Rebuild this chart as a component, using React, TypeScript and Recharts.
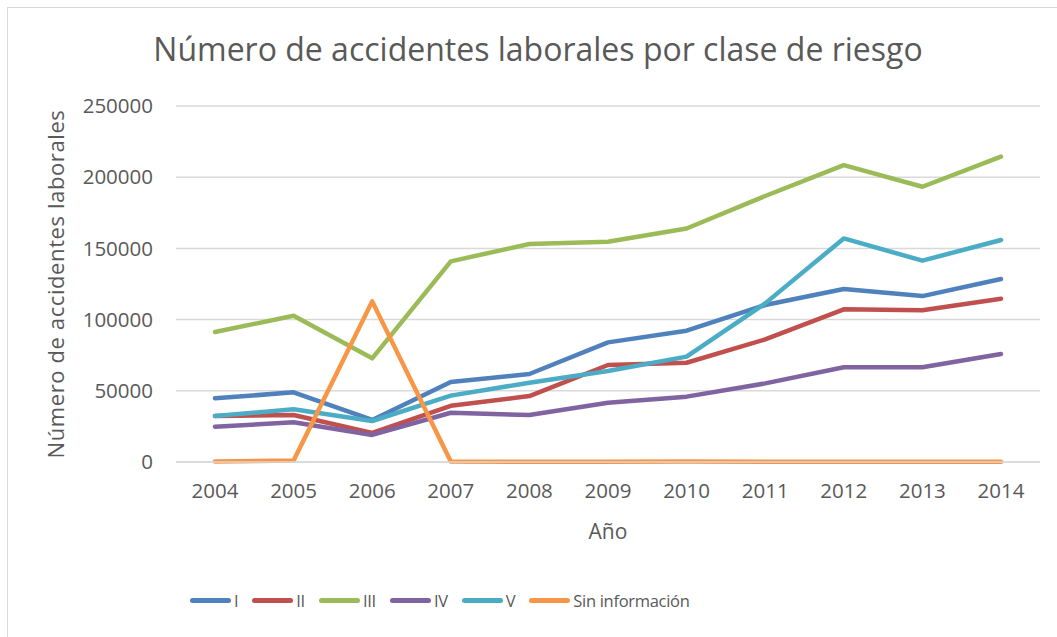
import React from 'react';
import { LineChart, Line, XAxis, YAxis, CartesianGrid, Legend, Label } from 'recharts';

const years = ['2004', '2005', '2006', '2007', '2008', '2009', '2010', '2011', '2012', '2013', '2014'];

const claseI = [44700, 48900, 29500, 56200, 61800, 84000, 92200, 110200, 121500, 116500, 128500];
const claseII = [32300, 33000, 20400, 39500, 46300, 68100, 69700, 86100, 107200, 106500, 114700];
const claseIII = [91300, 102700, 72800, 140900, 153100, 154700, 164000, 186800, 208500, 193300, 214400];
const claseIV = [24800, 27900, 19000, 34600, 33000, 41600, 45900, 55200, 66500, 66500, 75800];
const claseV = [32300, 37000, 28800, 46600, 55700, 63900, 74000, 111400, 157000, 141400, 155900];
const sinInfo = [300, 1000, 112800, 400, 200, 200, 300, 200, 200, 200, 200];

const yTicks = [0, 50000, 100000, 150000, 200000, 250000];

const series = [
  { key: 'I', color: '#4F81BD' },
  { key: 'II', color: '#C0504D' },
  { key: 'III', color: '#9BBB59' },
  { key: 'IV', color: '#8064A2' },
  { key: 'V', color: '#4BACC6' },
  { key: 'Sin información', color: '#F79646' },
];

const data = years.map((year, i) => ({
  year,
  I: claseI[i],
  II: claseII[i],
  III: claseIII[i],
  IV: claseIV[i],
  V: claseV[i],
  'Sin información': sinInfo[i],
}));

const font = '"Open Sans", "DejaVu Sans", sans-serif';
const grey = '#595959';

const LegendContent = () => (
  <div style={{ display: 'flex', alignItems: 'center', fontFamily: font, fontSize: 16.5, letterSpacing: -0.3, color: grey }}>
    {series.map((s) => (
      <div key={s.key} style={{ display: 'flex', alignItems: 'center', marginRight: 14 }}>
        <div style={{ width: 41, height: 5, borderRadius: 3, background: s.color, marginRight: 3 }} />
        <span>{s.key}</span>
      </div>
    ))}
  </div>
);

const App: React.FC = () => {
  return (
    <div style={{ position: 'absolute', left: 0, top: 0, width: 1057, height: 637, background: '#fff', overflow: 'hidden' }}>
      <div style={{ position: 'absolute', left: 7, top: 7, width: 1100, height: 700, border: '1px solid #d9d9d9' }} />
      <div style={{ position: 'absolute', left: 0, top: 27, width: 1076, textAlign: 'center', fontFamily: font, fontSize: 32, color: grey }}>
        Número de accidentes laborales por clase de riesgo
      </div>
      <LineChart
        width={1057}
        height={637}
        data={data}
        margin={{ top: 106, right: 17, left: 76, bottom: 95 }}
        style={{ position: 'absolute', left: 0, top: 0 }}
      >
        <CartesianGrid vertical={false} stroke="#d9d9d9" strokeWidth={1.5} />
        <XAxis
          dataKey="year"
          height={80}
          axisLine={{ stroke: '#d9d9d9', strokeWidth: 1.5 }}
          tickLine={false}
          tickMargin={15}
          padding={{ left: 39, right: 39 }}
          tick={{ fill: grey, fontSize: 20.5, fontFamily: font }}
        >
          <Label value="Año" position="insideBottom" offset={3} fill={grey} fontSize={21} fontFamily={font} />
        </XAxis>
        <YAxis
          width={100}
          domain={[0, 250000]}
          ticks={yTicks}
          axisLine={false}
          tickLine={false}
          tickMargin={17}
          tick={{ fill: grey, fontSize: 20.5, fontFamily: font }}
        >
          <Label
            value="Número de accidentes laborales"
            angle={-90}
            position="insideLeft"
            offset={-20}
            fill={grey}
            fontSize={22}
            fontFamily={font}
            style={{ textAnchor: 'middle', letterSpacing: 0.6 }}
          />
        </YAxis>
        <Legend verticalAlign="middle" layout="horizontal" content={LegendContent} wrapperStyle={{ position: 'absolute', left: 190, top: 589, width: 'auto' }} />
        {series.map((s) => (
          <Line
            key={s.key}
            dataKey={s.key}
            stroke={s.color}
            strokeWidth={4.5}
            strokeLinecap="round"
            strokeLinejoin="round"
            dot={false}
            activeDot={false}
            isAnimationActive={false}
          />
        ))}
      </LineChart>
    </div>
  );
};

export default App;
